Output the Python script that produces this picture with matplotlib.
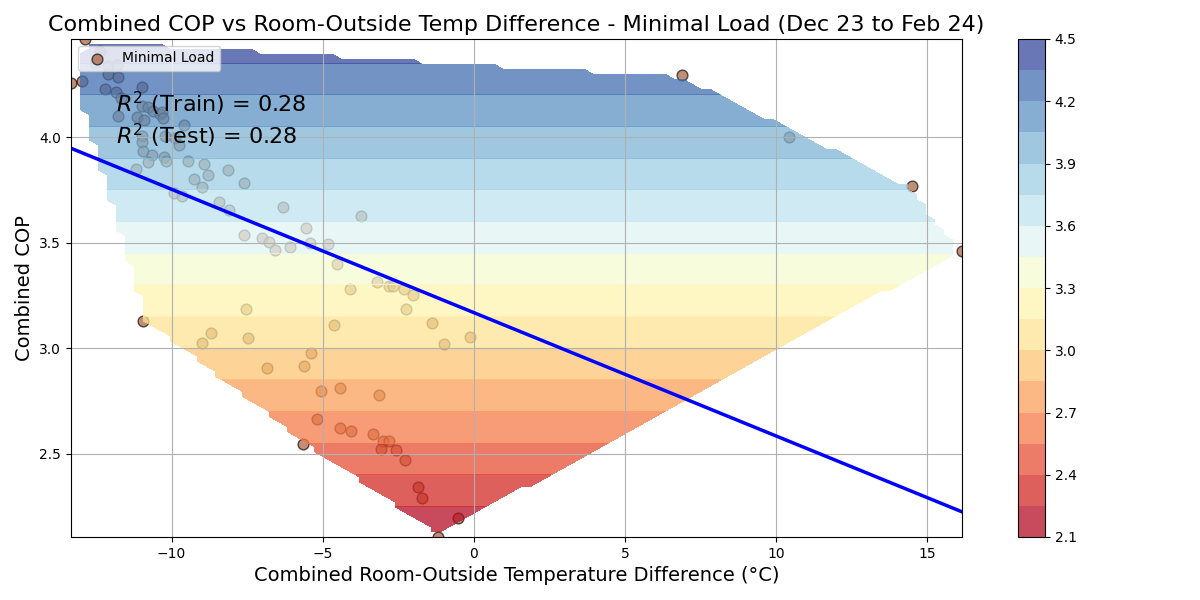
import matplotlib
matplotlib.use("Agg")
import matplotlib.pyplot as plt
import matplotlib.tri as mtri
import numpy as np

# room-outside temperature difference (degC) and combined COP, minimal load days
temp_diff = np.array([
    -12.88, -13.33, -12.98, -12.38, -12.55, -12.12, -11.82, -12.09, -11.79, -12.19,
    -11.85, -10.99, -11.69, -10.99, -10.79, -10.63, -10.40, -10.33, -11.79, -11.13,
    -10.93, -10.30, -10.99, -10.99, -10.96, -10.66, -10.23, -9.90, -9.77, -9.60,
    -10.26, -10.17, -10.79, -11.19, -9.47, -8.94, -8.81, -9.27, -9.01, -8.15,
    -7.62, -9.93, -9.67, -8.44, -8.11, -6.32, -3.74, -7.62, -7.02, -6.79,
    -6.59, -6.09, -5.56, -5.43, -4.83, -4.54, -4.11, -3.21, -2.81, -2.68,
    -2.32, -2.02, -2.25, -1.39, -4.64, -0.99, -0.13, -7.55, -10.96, -8.68,
    -9.01, -7.48, -5.40, -5.63, -6.85, -5.07, -4.44, -3.15, -5.20, -4.44,
    -4.07, -3.34, -3.01, -2.81, -3.08, -2.58, -2.28, -5.66, -1.85, -1.72,
    -0.53, -1.19, 6.89, 10.43, 14.50, 16.16])
cop = np.array([
    4.465, 4.256, 4.266, 4.408, 4.351, 4.337, 4.342, 4.299, 4.285, 4.228,
    4.214, 4.237, 4.185, 4.147, 4.142, 4.123, 4.109, 4.119, 4.100, 4.095,
    4.081, 4.090, 4.005, 3.976, 3.934, 3.915, 4.005, 3.995, 3.962, 4.057,
    3.905, 3.886, 3.881, 3.848, 3.886, 3.872, 3.820, 3.801, 3.763, 3.843,
    3.782, 3.734, 3.720, 3.691, 3.653, 3.668, 3.625, 3.535, 3.521, 3.502,
    3.464, 3.478, 3.568, 3.497, 3.492, 3.397, 3.283, 3.316, 3.293, 3.297,
    3.283, 3.250, 3.184, 3.122, 3.112, 3.022, 3.055, 3.184, 3.131, 3.074,
    3.027, 3.051, 2.979, 2.918, 2.908, 2.799, 2.813, 2.780, 2.666, 2.623,
    2.609, 2.595, 2.562, 2.562, 2.524, 2.519, 2.472, 2.547, 2.343, 2.291,
    2.196, 2.106, 4.294, 4.000, 3.767, 3.459])

# fitted regression line
slope = -0.0584
intercept = 3.169
r2_train = 0.28
r2_test = 0.28

fig = plt.figure(figsize=(12, 6), dpi=100)
ax = fig.add_axes([71/1200, 63/600, 891/1200, 498/600])
cax = fig.add_axes([1018/1200, 63/600, 27/1200, 498/600])

ax.scatter(temp_diff, cop, s=60, color="sienna", alpha=0.65, edgecolors="black",
           label="Minimal Load")

# interpolate COP over the convex hull on a regular grid
xi = np.linspace(temp_diff.min(), temp_diff.max(), 100)
yi = np.linspace(cop.min(), cop.max(), 100)
X, Y = np.meshgrid(xi, yi)
tri = mtri.Triangulation(temp_diff, cop)
Z = mtri.LinearTriInterpolator(tri, cop)(X, Y)
cf = ax.contourf(X, Y, Z, levels=15, cmap="RdYlBu", alpha=0.75)
fig.colorbar(cf, cax=cax)

xs = np.sort(temp_diff)
ax.plot(xs, slope * xs + intercept, color="blue", linewidth=2.5)

ax.text(0.05, 0.87, "$R^2$ (Train) = %.2f" % r2_train, transform=ax.transAxes,
        fontsize=16, va="center")
ax.text(0.05, 0.805, "$R^2$ (Test) = %.2f" % r2_test, transform=ax.transAxes,
        fontsize=16, va="center")

ax.set_title("Combined COP vs Room-Outside Temp Difference - Minimal Load (Dec 23 to Feb 24)",
             fontsize=16)
ax.set_xlabel("Combined Room-Outside Temperature Difference (°C)", fontsize=14)
ax.set_ylabel("Combined COP", fontsize=14)
ax.legend(loc="upper left")
ax.grid(True)

fig.savefig("out.png")
